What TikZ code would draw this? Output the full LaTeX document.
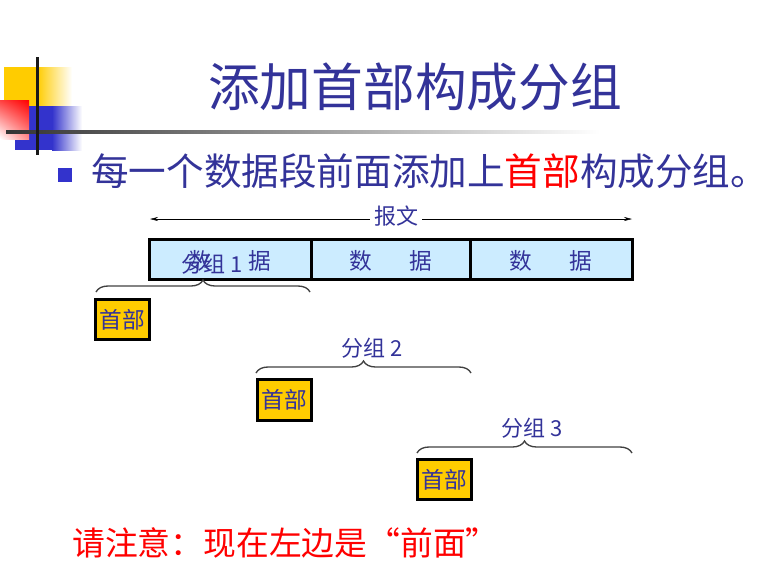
\documentclass[tikz,border=0pt]{standalone}
\usepackage{fontspec}
\setmainfont{Noto Sans CJK SC}
\usetikzlibrary{decorations.pathreplacing,arrows.meta,shadings}
\definecolor{tblue}{HTML}{333399}
\definecolor{sqblue}{HTML}{3333CC}
\definecolor{cellblue}{HTML}{CCECFF}
\definecolor{hdryellow}{HTML}{FFCC00}
\tikzset{
  txt/.style={inner sep=0pt, text=tblue},
  cell/.style={draw=black, line width=2.25pt, fill=cellblue},
  hdr/.style={draw=black, line width=2.25pt, fill=hdryellow, inner sep=0pt, text=tblue,
     font=\fontsize{17}{17}\selectfont},
  brc/.style={draw=black!75, line width=1pt, decorate, decoration={brace, amplitude=9pt}},
  smallfont/.style={font=\fontsize{16.5}{16.5}\selectfont}
}
\begin{document}
\begin{tikzpicture}[x=0.75pt, y=-0.75pt]
\useasboundingbox (0,0) rectangle (774,575);
% top-left decoration
\fill[hdryellow] (4,67) rectangle (37,106);
\shade[left color=hdryellow, right color=white] (37,67) rectangle (72,106);
\fill[sqblue] (15,106) rectangle (52,150);
\shade[left color=sqblue, right color=white] (52,106) rectangle (82,150);
\shade[upper left=red!75!white, upper right=red, lower left=white, lower right=red!45!white] (0,100) rectangle (29,139);
\shade[left color=black!80, right color=white] (6,130.5) rectangle (600,133.5);
\fill[black!90] (35.5,57) rectangle (38.5,155);
% title
\node[txt, font=\fontsize{38.8}{38.8}\selectfont] (title) at (415,87) {添加首部构成分组};
% bullet
\fill[sqblue] (58,168) rectangle (72,182);
\node[txt, anchor=west, font=\fontsize{28.2}{28.2}\selectfont] (bullet) at (91,171)
  {每一个数据段前面添加上\textcolor{red}{首部}构成分组。};
% message arrow
\node[txt, smallfont, fill=white, inner xsep=3pt] (msg) at (396,216) {报文};
\coordinate (mL) at (150,219);
\coordinate (mR) at (632,219);
\draw[-{Stealth[length=6pt,width=3pt]}] (msg.west |- mL) -- (mL);
\draw[-{Stealth[length=6pt,width=3pt]}] (msg.east |- mR) -- (mR);
% data cells
\node[cell, minimum width=121.5pt, minimum height=30pt, inner sep=0pt] (c1) at (230,259) {};
\node[cell, minimum width=119.25pt, minimum height=30pt, inner sep=0pt] (c2) at (390.5,259) {};
\node[cell, minimum width=121.5pt, minimum height=30pt, inner sep=0pt] (c3) at (551,259) {};
\foreach \c/\x in {1/230, 2/390.5, 3/551}{
  \node[txt, font=\fontsize{17}{17}\selectfont] (d\c) at (\x-30,261) {数};
  \node[txt, font=\fontsize{17}{17}\selectfont] (j\c) at (\x+30,261) {据};
}
% group labels
\node[txt, smallfont] (g1) at (212,264) {分组 1};
\node[txt, smallfont] (g2) at (372,348) {分组 2};
\node[txt, smallfont] (g3) at (532,428) {分组 3};
% braces
\coordinate (b1l) at (96,292); \coordinate (b1r) at (310,292);
\coordinate (b2l) at (256,373); \coordinate (b2r) at (471,373);
\coordinate (b3l) at (417,453); \coordinate (b3r) at (632,453);
\draw[brc] (b1l) -- (b1r);
\draw[brc] (b2l) -- (b2r);
\draw[brc] (b3l) -- (b3r);
% header boxes
\node[hdr, minimum width=40.5pt, minimum height=30.5pt] (h1) at (122.5,319.5) {首部};
\node[hdr, minimum width=40.5pt, minimum height=30.5pt] (h2) at (284,400) {首部};
\node[hdr, minimum width=40.5pt, minimum height=30.5pt] (h3) at (444.5,479.5) {首部};
% bottom note
\node[inner sep=0pt, anchor=west, text=red, font=\fontsize{24.6}{24.6}\selectfont] (note) at (72,543)
  {请注意：现在左边是“前面”};
\end{tikzpicture}
\end{document}
